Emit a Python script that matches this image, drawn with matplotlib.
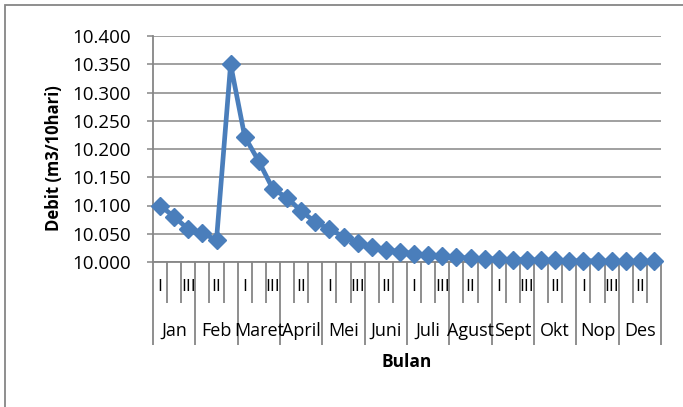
import matplotlib
matplotlib.use('Agg')
import matplotlib.pyplot as plt
from matplotlib.patches import Rectangle
from matplotlib.transforms import blended_transform_factory
from matplotlib.ticker import FormatStrFormatter

# Data
bulan = ['Jan', 'Feb', 'Maret', 'April', 'Mei', 'Juni',
         'Juli', 'Agust', 'Sept', 'Okt', 'Nop', 'Des']
dekade = ['I', 'II', 'III']
debit = [10.100, 10.080, 10.058, 10.051, 10.039, 10.350,
         10.222, 10.178, 10.129, 10.114, 10.090, 10.071,
         10.058, 10.045, 10.034, 10.027, 10.022, 10.018,
         10.015, 10.012, 10.010, 10.008, 10.007, 10.006,
         10.005, 10.004, 10.004, 10.003, 10.003, 10.002,
         10.002, 10.002, 10.001, 10.001, 10.001, 10.001]

plt.rcParams['font.family'] = ['Open Sans', 'DejaVu Sans']
abu = '#868686'

fig = plt.figure(figsize=(6.83, 4.07), dpi=100)
# bingkai luar chart
fig.add_artist(Rectangle((5 / 683, -0.1), 1.2, 1 - 5 / 407 + 0.1,
                         transform=fig.transFigure, fill=False,
                         edgecolor=abu, linewidth=1.3))

ax = fig.add_axes([153 / 683, 1 - 262 / 407, 508 / 683, 226 / 407])
x = list(range(len(debit)))
ax.plot(x, debit, color='#4A7EBB', linewidth=3.4, marker='D',
        markersize=8.8, markerfacecolor='#4A7EBB', markeredgecolor='#4A7EBB',
        clip_on=False, zorder=3)

ax.set_xlim(-0.5, len(debit) - 0.5)
ax.set_ylim(10.0, 10.4)
ax.set_yticks([10.0 + 0.05 * i for i in range(9)])
ax.yaxis.set_major_formatter(FormatStrFormatter('%.3f'))
ax.grid(axis='y', color=abu, linewidth=1.1)
ax.set_axisbelow(True)

for s in ['top', 'right']:
    ax.spines[s].set_visible(False)
for s in ['left', 'bottom']:
    ax.spines[s].set_color(abu)
    ax.spines[s].set_linewidth(1.3)

ax.tick_params(axis='y', length=4, color=abu, width=1.1, labelsize=13.5, pad=12)

# garis pemisah bulan (panjang) dan dekade (pendek)
batas_bulan = [i * 3 - 0.5 for i in range(len(bulan) + 1)]
batas_dekade = [i - 0.5 for i in range(len(debit) + 1) if i % 3 != 0]
ax.set_xticks(batas_bulan)
ax.set_xticks(batas_dekade, minor=True)
ax.set_xticklabels([])
ax.tick_params(axis='x', which='major', length=60, color=abu, width=1.3)
ax.tick_params(axis='x', which='minor', length=29.5, color=abu, width=1.3)

tr = blended_transform_factory(ax.transData, ax.transAxes)
for i in range(0, len(debit), 2):
    ax.text(i, -25 / 226, dekade[i % 3], transform=tr, ha='center',
            va='center', fontsize=12.5)
for j, b in enumerate(bulan):
    ax.text(j * 3 + 1, -69 / 226, b, transform=tr, ha='center',
            va='center', fontsize=13)

ax.text(0.5, -100 / 226, 'Bulan', transform=ax.transAxes, ha='center',
        va='center', fontsize=12.5, fontweight='bold')
fig.text(54 / 683, 1 - 158 / 407, 'Debit (m3/10hari)', rotation=90,
         ha='center', va='center', fontsize=12, fontweight='bold')

fig.savefig('out.png', dpi=100)
